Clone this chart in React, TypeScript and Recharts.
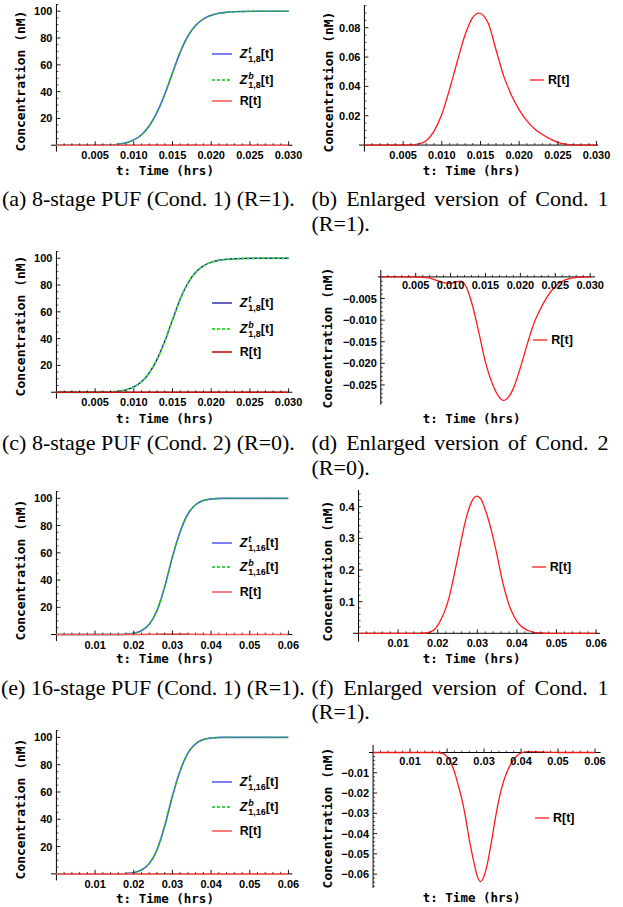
import React from 'react';
import { LineChart, Line, XAxis, YAxis, ReferenceLine, ReferenceDot } from 'recharts';

// ---- values ----

// 8-stage PUF, Z^t and Z^b (the two curves overlap)
const t8Z = [0, 0.002, 0.004, 0.006, 0.007, 0.008, 0.009, 0.010, 0.011, 0.012, 0.013, 0.014, 0.015, 0.016, 0.017, 0.018, 0.019, 0.020, 0.021, 0.022, 0.023, 0.024, 0.026, 0.028, 0.030];
const z8 = [0, 0, 0, 0.05, 0.2, 0.7, 1.8, 4, 7.8, 14.5, 24.5, 38, 54, 69.5, 81.5, 89.5, 94.3, 97, 98.5, 99.2, 99.6, 99.8, 100, 100, 100];

// 8-stage, Cond. 1, R[t]
const t8R1 = [0, 0.005, 0.006, 0.007, 0.008, 0.009, 0.010, 0.011, 0.012, 0.013, 0.014, 0.0148, 0.016, 0.017, 0.018, 0.019, 0.020, 0.021, 0.022, 0.023, 0.024, 0.025, 0.026, 0.027, 0.028, 0.030];
const r8R1 = [0, 0, 0.0001, 0.0008, 0.003, 0.0095, 0.021, 0.038, 0.057, 0.075, 0.087, 0.09, 0.083, 0.065, 0.047, 0.034, 0.024, 0.0165, 0.011, 0.0072, 0.0042, 0.0018, 0.0006, 0.0001, 0, 0];

// 8-stage, Cond. 2, R[t]
const t8R2 = [0, 0.005, 0.006, 0.007, 0.008, 0.009, 0.010, 0.011, 0.0115, 0.012, 0.013, 0.014, 0.015, 0.016, 0.017, 0.0175, 0.018, 0.019, 0.020, 0.021, 0.022, 0.023, 0.024, 0.025, 0.026, 0.027, 0.028, 0.030];
const r8R2 = [0, 0, -0.0001, -0.0003, -0.0008, -0.0013, -0.0015, -0.0011, -0.001, -0.0016, -0.0058, -0.0125, -0.0198, -0.0248, -0.0279, -0.0286, -0.0283, -0.0258, -0.021, -0.0155, -0.0105, -0.007, -0.0042, -0.0022, -0.001, -0.0004, -0.0001, 0];

// 16-stage PUF, Z^t and Z^b
const t16Z = [0, 0.016, 0.018, 0.020, 0.022, 0.024, 0.026, 0.028, 0.030, 0.032, 0.034, 0.036, 0.038, 0.040, 0.043, 0.050, 0.060];
const z16 = [0, 0, 0.2, 0.9, 2.8, 7.5, 17.5, 35, 57, 75.5, 88.5, 95.3, 98.4, 99.5, 100, 100, 100];

// 16-stage, Cond. 1, R[t]
const t16R1 = [0, 0.015, 0.017, 0.019, 0.020, 0.021, 0.022, 0.023, 0.024, 0.025, 0.026, 0.027, 0.028, 0.029, 0.0298, 0.031, 0.032, 0.033, 0.034, 0.035, 0.036, 0.037, 0.038, 0.039, 0.040, 0.041, 0.042, 0.043, 0.044, 0.046, 0.048, 0.060];
const r16R1 = [0, 0, 0.001, 0.01, 0.025, 0.048, 0.078, 0.12, 0.175, 0.235, 0.298, 0.355, 0.398, 0.425, 0.433, 0.422, 0.39, 0.35, 0.302, 0.245, 0.184, 0.132, 0.09, 0.06, 0.038, 0.023, 0.014, 0.008, 0.004, 0.001, 0, 0];

// 16-stage, Cond. 2, R[t]
const t16R2 = [0, 0.017, 0.019, 0.020, 0.021, 0.022, 0.023, 0.024, 0.025, 0.026, 0.027, 0.028, 0.029, 0.030, 0.031, 0.032, 0.033, 0.034, 0.035, 0.036, 0.037, 0.038, 0.039, 0.040, 0.042, 0.045, 0.048, 0.050, 0.060];
const r16R2 = [0, 0, -0.0005, -0.002, -0.005, -0.0095, -0.016, -0.023, -0.032, -0.043, -0.052, -0.06, -0.0637, -0.061, -0.054, -0.044, -0.033, -0.0234, -0.016, -0.0105, -0.0065, -0.0035, -0.0015, -0.0002, 0.0004, 0.0003, 0.0001, 0, 0];

// tick labels
const xTicks8 = ['0.005', '0.010', '0.015', '0.020', '0.025', '0.030'];
const xTicks16 = ['0.01', '0.02', '0.03', '0.04', '0.05', '0.06'];
const yTicksZ = ['20', '40', '60', '80', '100'];
const yTicksB = ['0.02', '0.04', '0.06', '0.08'];
const yTicksD = ['-0.005', '-0.010', '-0.015', '-0.020', '-0.025'];
const yTicksF = ['0.1', '0.2', '0.3', '0.4'];
const yTicksH = ['-0.01', '-0.02', '-0.03', '-0.04', '-0.05', '-0.06'];

const zip = (ts: number[], vs: number[]) => ts.map((t, i) => ({ t, v: vs[i] }));

const TICK_FONT: React.CSSProperties = { fontFamily: '"Liberation Sans", Arial, sans-serif', fontWeight: 700, fontSize: 11 };
const MONO = '"DejaVu Sans Mono", monospace';
const SERIF = '"Liberation Serif", "Times New Roman", serif';

type Series = { data: { t: number; v: number }[]; color: string; width: number; dash?: string };

type PanelProps = {
  x0: number; sx: number; tMin: number; tMax: number;
  y0: number; sy: number; vMin: number; vMax: number;
  xTicks: string[]; xMinor: number; yTicks: string[]; yMinor: number;
  neg?: boolean; xLabelDy: number;
  series: Series[];
};

const M = { top: 10, right: 20, bottom: 30, left: 60 };

const minorVals = (step: number, lo: number, hi: number, majors: number[]) => {
  const out: number[] = [];
  for (let k = Math.ceil(lo / step - 1e-9); k * step <= hi + 1e-12; k++) {
    const v = +(k * step).toFixed(6);
    if (v !== 0 && !majors.some((m) => Math.abs(m - v) < step / 10)) out.push(v);
  }
  return out;
};

const fmt = (s: string) => s.replace('-', '\u2212');

function Panel(p: PanelProps) {
  const plotL = p.x0 + p.tMin * p.sx;
  const plotR = p.x0 + p.tMax * p.sx;
  const plotT = p.y0 - p.vMax * p.sy;
  const plotB = p.y0 - p.vMin * p.sy;
  const w = plotR - plotL + M.left + M.right;
  const h = plotB - plotT + M.top + M.bottom;

  const xMaj = p.xTicks.map(Number);
  const yMaj = p.yTicks.map(Number);
  const xMin = minorVals(p.xMinor, 0, p.tMax, xMaj);
  const yMin = p.neg ? minorVals(p.yMinor, p.vMin, 0, yMaj) : minorVals(p.yMinor, 0, p.vMax, yMaj);

  const ticks: React.ReactNode[] = [];
  p.xTicks.forEach((lab, i) =>
    ticks.push(
      <ReferenceDot key={'xM' + i} x={Number(lab)} y={0} r={1} shape={(d: any) => (
        <g>
          <line x1={d.cx} x2={d.cx} y1={d.cy} y2={d.cy - 4} stroke="#000" strokeWidth={0.9} />
          <text x={d.cx} y={d.cy + p.xLabelDy} textAnchor="middle" dominantBaseline="central" fill="#000" style={TICK_FONT}>{lab}</text>
        </g>
      )} />
    )
  );
  xMin.forEach((v, i) =>
    ticks.push(
      <ReferenceDot key={'xm' + i} x={v} y={0} r={1} shape={(d: any) => (
        <line x1={d.cx} x2={d.cx} y1={d.cy} y2={d.cy - 2} stroke="#000" strokeWidth={0.7} />
      )} />
    )
  );
  p.yTicks.forEach((lab, i) =>
    ticks.push(
      <ReferenceDot key={'yM' + i} x={0} y={Number(lab)} r={1} shape={(d: any) => (
        <g>
          <line x1={d.cx} x2={d.cx + 4} y1={d.cy} y2={d.cy} stroke="#000" strokeWidth={0.9} />
          <text x={d.cx - 4} y={d.cy} textAnchor="end" dominantBaseline="central" fill="#000" style={TICK_FONT}>{fmt(lab)}</text>
        </g>
      )} />
    )
  );
  yMin.forEach((v, i) =>
    ticks.push(
      <ReferenceDot key={'ym' + i} x={0} y={v} r={1} shape={(d: any) => (
        <line x1={d.cx} x2={d.cx + 2} y1={d.cy} y2={d.cy} stroke="#000" strokeWidth={0.7} />
      )} />
    )
  );

  return (
    <div style={{ position: 'absolute', left: plotL - M.left, top: plotT - M.top }}>
      <LineChart width={w} height={h} margin={M}>
        <XAxis type="number" dataKey="t" domain={[p.tMin, p.tMax]} allowDataOverflow hide />
        <YAxis type="number" dataKey="v" domain={[p.vMin, p.vMax]} allowDataOverflow hide />
        <ReferenceLine x={0} stroke="#000" strokeWidth={1} />
        <ReferenceLine y={0} stroke="#000" strokeWidth={1} />
        {ticks}
        {p.series.map((s, i) => (
          <Line key={i} data={s.data} dataKey="v" type="monotone" stroke={s.color} strokeWidth={s.width}
            strokeDasharray={s.dash} dot={false} activeDot={false} isAnimationActive={false} />
        ))}
      </LineChart>
    </div>
  );
}

// line styles
const light = { zt: { color: '#5b5bff', width: 1.6 }, zb: { color: '#10c010', width: 1.4, dash: '3 2' }, r: { color: '#ff5c5c', width: 1.6 } };
const dark = { zt: { color: '#12129e', width: 1.3 }, zb: { color: '#3ae03a', width: 1.9, dash: '3 2' }, r: { color: '#c81010', width: 1.6 } };
const red = { color: '#ff1a1a', width: 1.3 };

const zSeries = (st: typeof light, z: { t: number; v: number }[], r: { t: number; v: number }[]): Series[] => [
  { data: z, ...st.zt },
  { data: z, ...st.zb },
  { data: r, ...st.r },
];

function XTitle({ cx, cy }: { cx: number; cy: number }) {
  return (
    <div style={{ position: 'absolute', left: cx, top: cy, transform: 'translate(-50%,-50%)', font: `bold 12.5px ${MONO}`, whiteSpace: 'pre' }}>
      t: Time (hrs)
    </div>
  );
}

function YTitle({ cx, cy }: { cx: number; cy: number }) {
  return (
    <div style={{ position: 'absolute', left: cx, top: cy, transform: 'translate(-50%,-50%) rotate(-90deg)', font: `bold 13px ${MONO}`, whiteSpace: 'pre' }}>
      Concentration (nM)
    </div>
  );
}

function LegendRow({ left, cy, color, width, dash, len, gap, children }: any) {
  return (
    <div style={{ position: 'absolute', left, top: cy - 10, height: 20, display: 'flex', alignItems: 'center', whiteSpace: 'nowrap', font: 'bold 12.5px "Liberation Sans", Arial, sans-serif' }}>
      <svg width={len} height={6} style={{ marginRight: gap }}>
        <line x1={0} x2={len} y1={3} y2={3} stroke={color} strokeWidth={width} strokeDasharray={dash} />
      </svg>
      {children}
    </div>
  );
}

function ZLabel({ sup, sub }: { sup: string; sub: string }) {
  return (
    <span style={{ display: 'inline-flex', alignItems: 'center' }}>
      <span style={{ fontStyle: 'italic' }}>Z</span>
      <span style={{ display: 'inline-flex', flexDirection: 'column', fontSize: 9, lineHeight: '9px', marginLeft: 1, position: 'relative', top: 1 }}>
        <span style={{ fontStyle: 'italic' }}>{sup}</span>
        <span>{sub}</span>
      </span>
      <span>[t]</span>
    </span>
  );
}

function ZLegend({ ys, st, sub }: { ys: number[]; st: typeof light; sub: string }) {
  return (
    <>
      <LegendRow left={211.7} cy={ys[0]} len={20} gap={8} {...st.zt}><ZLabel sup="t" sub={sub} /></LegendRow>
      <LegendRow left={211.7} cy={ys[1]} len={20} gap={8} {...st.zb}><ZLabel sup="b" sub={sub} /></LegendRow>
      <LegendRow left={211.7} cy={ys[2]} len={20} gap={8} {...st.r}>R[t]</LegendRow>
    </>
  );
}

function Caption({ left, top, lines, justify }: { left: number; top: number; lines: string[]; justify?: boolean }) {
  return (
    <div style={{ position: 'absolute', left, top, width: justify ? 297 : 310, font: `22px ${SERIF}`, lineHeight: '24.5px', color: '#000' }}>
      {lines.map((l, i) => (
        <div key={i} style={{ textAlign: justify && i === 0 ? 'justify' : 'left', textAlignLast: justify && i === 0 ? 'justify' : 'left', whiteSpace: justify && i === 0 ? 'normal' : 'nowrap' } as React.CSSProperties}>
          {l}
        </div>
      ))}
    </div>
  );
}

export default function App() {
  const z8d = zip(t8Z, z8);
  const z16d = zip(t16Z, z16);
  const r81 = zip(t8R1, r8R1);
  const r82 = zip(t8R2, r8R2);
  const r161 = zip(t16R1, r16R1);
  const r162 = zip(t16R2, r16R2);

  const left8 = { x0: 56, sx: 7740, tMin: -0.0007, tMax: 0.0305, vMin: -4.8, vMax: 105.4, xTicks: xTicks8, xMinor: 0.001, yTicks: yTicksZ, yMinor: 5, xLabelDy: 10 };
  const left16 = { x0: 56, sx: 3867, tMin: -0.0014, tMax: 0.061, vMin: -4.8, vMax: 105.4, xTicks: xTicks16, xMinor: 0.002, yTicks: yTicksZ, yMinor: 5, xLabelDy: 10 };

  return (
    <div style={{ position: 'absolute', left: 0, top: 0, width: 623, height: 907, background: '#fff', overflow: 'hidden' }}>
      {/* (a) */}
      <Panel {...left8} y0={145.3} sy={1.34} series={zSeries(light, z8d, r81)} />
      <YTitle cx={20} cy={81} />
      <XTitle cx={165} cy={170} />
      <ZLegend ys={[54.3, 80, 101]} st={light} sub="1,8" />

      {/* (b) */}
      <Panel x0={364.3} sx={7740} tMin={-0.0007} tMax={0.0302} y0={145.3} sy={1466.7} vMin={-0.0044} vMax={0.0955}
        xTicks={xTicks8} xMinor={0.001} yTicks={yTicksB} yMinor={0.005} xLabelDy={10} series={[{ data: r81, ...red }]} />
      <YTitle cx={328} cy={81.7} />
      <XTitle cx={471.7} cy={170} />
      <LegendRow left={530} cy={80} len={14} gap={4} {...red}>R[t]</LegendRow>

      {/* (c) */}
      <Panel {...left8} y0={392.7} sy={1.34} series={zSeries(dark, z8d, r82)} />
      <YTitle cx={20} cy={325.7} />
      <XTitle cx={165} cy={418.3} />
      <ZLegend ys={[303.3, 329.3, 351.7]} st={dark} sub="1,8" />

      {/* (d) */}
      <Panel x0={380.7} sx={6980} tMin={-0.0004} tMax={0.0307} y0={277} sy={4320} vMin={-0.0296} vMax={0.0016}
        xTicks={xTicks8} xMinor={0.001} yTicks={yTicksD} yMinor={0.001} neg xLabelDy={8.5} series={[{ data: r82, ...red }]} />
      <YTitle cx={326.7} cy={338} />
      <XTitle cx={471.7} cy={418.3} />
      <LegendRow left={533.3} cy={340} len={14} gap={4} {...red}>R[t]</LegendRow>

      {/* (e) */}
      <Panel {...left16} y0={634.5} sy={1.362} series={zSeries(light, z16d, r161)} />
      <YTitle cx={20} cy={570} />
      <XTitle cx={165} cy={658.3} />
      <ZLegend ys={[543.3, 566.7, 591.7]} st={light} sub="1,16" />

      {/* (f) */}
      <Panel x0={358.3} sx={3960} tMin={-0.0014} tMax={0.061} y0={633.3} sy={316.7} vMin={-0.0265} vMax={0.4525}
        xTicks={xTicks16} xMinor={0.002} yTicks={yTicksF} yMinor={0.02} xLabelDy={10} series={[{ data: r161, ...red }]} />
      <YTitle cx={327.3} cy={570.7} />
      <XTitle cx={471.7} cy={658.3} />
      <LegendRow left={531.7} cy={566.7} len={14} gap={4} {...red}>R[t]</LegendRow>

      {/* (g) */}
      <Panel {...left16} y0={874} sy={1.365} series={zSeries(light, z16d, r162)} />
      <YTitle cx={20} cy={809} />
      <XTitle cx={165} cy={898.3} />
      <ZLegend ys={[781.7, 806.7, 830.7]} st={light} sub="1,16" />

      {/* (h) */}
      <Panel x0={373.3} sx={3700} tMin={-0.0011} tMax={0.0615} y0={752.5} sy={2027} vMin={-0.0668} vMax={0.0037}
        xTicks={xTicks16} xMinor={0.002} yTicks={yTicksH} yMinor={0.002} neg xLabelDy={8.5} series={[{ data: r162, ...red }]} />
      <YTitle cx={326.7} cy={817.5} />
      <XTitle cx={471.7} cy={897.3} />
      <LegendRow left={535} cy={818.3} len={14} gap={4} {...red}>R[t]</LegendRow>

      {/* captions */}
      <Caption left={2} top={187} lines={['(a) 8-stage PUF (Cond. 1) (R=1).']} />
      <Caption left={311.5} top={187} lines={['(b) Enlarged version of Cond. 1', '(R=1).']} justify />
      <Caption left={2} top={431} lines={['(c) 8-stage PUF (Cond. 2) (R=0).']} />
      <Caption left={311.5} top={431} lines={['(d) Enlarged version of Cond. 2', '(R=0).']} justify />
      <Caption left={1} top={675.5} lines={['(e) 16-stage PUF (Cond. 1) (R=1).']} />
      <Caption left={311.5} top={675.5} lines={['(f) Enlarged version of Cond. 1', '(R=1).']} justify />
    </div>
  );
}
